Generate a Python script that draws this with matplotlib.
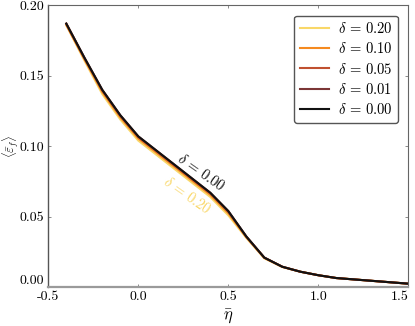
import matplotlib
matplotlib.use("Agg")
import matplotlib.pyplot as plt

plt.rcParams['mathtext.fontset'] = 'cm'
plt.rcParams['axes.unicode_minus'] = False

# data
eta = [-0.4, -0.3, -0.2, -0.1, 0.0, 0.1, 0.2, 0.3, 0.4, 0.5,
       0.6, 0.7, 0.8, 0.9, 1.0, 1.1, 1.2, 1.3, 1.4, 1.5]
eps_000 = [0.187, 0.163, 0.140, 0.122, 0.107, 0.097, 0.087, 0.077, 0.067, 0.054,
           0.036, 0.021, 0.0145, 0.011, 0.0085, 0.0065, 0.0055, 0.0045, 0.0035, 0.0025]
eps_001 = [0.187, 0.163, 0.140, 0.122, 0.107, 0.097, 0.087, 0.077, 0.067, 0.054,
           0.036, 0.021, 0.0145, 0.011, 0.0085, 0.0065, 0.0055, 0.0045, 0.0035, 0.0025]
eps_005 = [0.187, 0.1625, 0.1395, 0.1215, 0.1065, 0.0965, 0.0865, 0.0765, 0.0665, 0.0535,
           0.0358, 0.021, 0.0145, 0.011, 0.0085, 0.0065, 0.0055, 0.0045, 0.0035, 0.0025]
eps_010 = [0.186, 0.162, 0.1385, 0.1205, 0.1055, 0.0955, 0.0855, 0.0755, 0.0655, 0.0525,
           0.0355, 0.0208, 0.0145, 0.011, 0.0085, 0.0065, 0.0055, 0.0045, 0.0035, 0.0025]
eps_020 = [0.186, 0.161, 0.137, 0.119, 0.104, 0.094, 0.084, 0.074, 0.064, 0.051,
           0.035, 0.0205, 0.0143, 0.011, 0.0085, 0.0065, 0.0055, 0.0045, 0.0035, 0.0025]

deltas = ["0.20", "0.10", "0.05", "0.01", "0.00"]
colors = ['#f9d768', '#f58a1f', '#c0502f', '#7b3636', '#111111']
series = [eps_020, eps_010, eps_005, eps_001, eps_000]

xticks = [-0.5, 0.0, 0.5, 1.0, 1.5]
xticklabels = ['-0.5', '0.0', '0.5', '1.0', '1.5']
yticks = [0.0, 0.05, 0.10, 0.15, 0.20]
yticklabels = ['0.00', '0.05', '0.10', '0.15', '0.20']


def main():
    fig = plt.figure(figsize=(4.15, 3.26), dpi=100)
    ax = fig.add_axes([0.1164, 0.119, 0.8675, 0.8647])

    for d, c, y in zip(deltas, colors, series):
        ax.plot(eta, y, color=c, lw=1.5, label=r'$\delta \,=\, %s$' % d)

    ax.set_xlim(-0.5, 1.5)
    ax.set_ylim(0.0, 0.2)

    # inline labels on the curves
    ax.text(0.35, 0.0815, r'$\delta \,=\, 0.00$', color='#111111', fontsize=10.5,
            rotation=-35, ha='center', va='center')
    ax.text(0.27, 0.0655, r'$\delta \,=\, 0.20$', color='#f9d768', fontsize=10.5,
            rotation=-35, ha='center', va='center')

    ax.set_xticks(xticks)
    ax.set_xticklabels(xticklabels, family='cmr10', fontsize=10)
    ax.set_yticks(yticks)
    ax.set_yticklabels(yticklabels, family='cmr10', fontsize=10)
    ax.get_yticklabels()[0].set_va('bottom')
    ax.get_xticklabels()[-1].set_ha('right')
    ax.tick_params(direction='in', length=2, width=0.6, color='#777777',
                   top=True, right=True, pad=3)

    for s in ['top', 'right']:
        ax.spines[s].set_color('#666666')
        ax.spines[s].set_linewidth(0.8)
    ax.spines['left'].set_color('#555555')
    ax.spines['left'].set_linewidth(1.0)
    ax.spines['bottom'].set_color('#9a9a9a')
    ax.spines['bottom'].set_linewidth(1.6)

    ax.set_xlabel(r'$\bar{\eta}$', fontsize=12)
    ax.xaxis.set_label_coords(0.5, -0.072)
    ax.set_ylabel(r'$\langle\bar{\varepsilon}_{\!f}\rangle$', fontsize=9)
    ax.yaxis.set_label_coords(-0.077, 0.5)

    leg = ax.legend(loc='upper right', fontsize=10.5, fancybox=True, framealpha=1,
                    edgecolor='#555555', handlelength=2.0, labelspacing=0.35,
                    borderpad=0.4, handletextpad=0.6, borderaxespad=0.7)
    leg.get_frame().set_linewidth(1.0)

    fig.savefig('out.png', dpi=100)


if __name__ == "__main__":
    main()
